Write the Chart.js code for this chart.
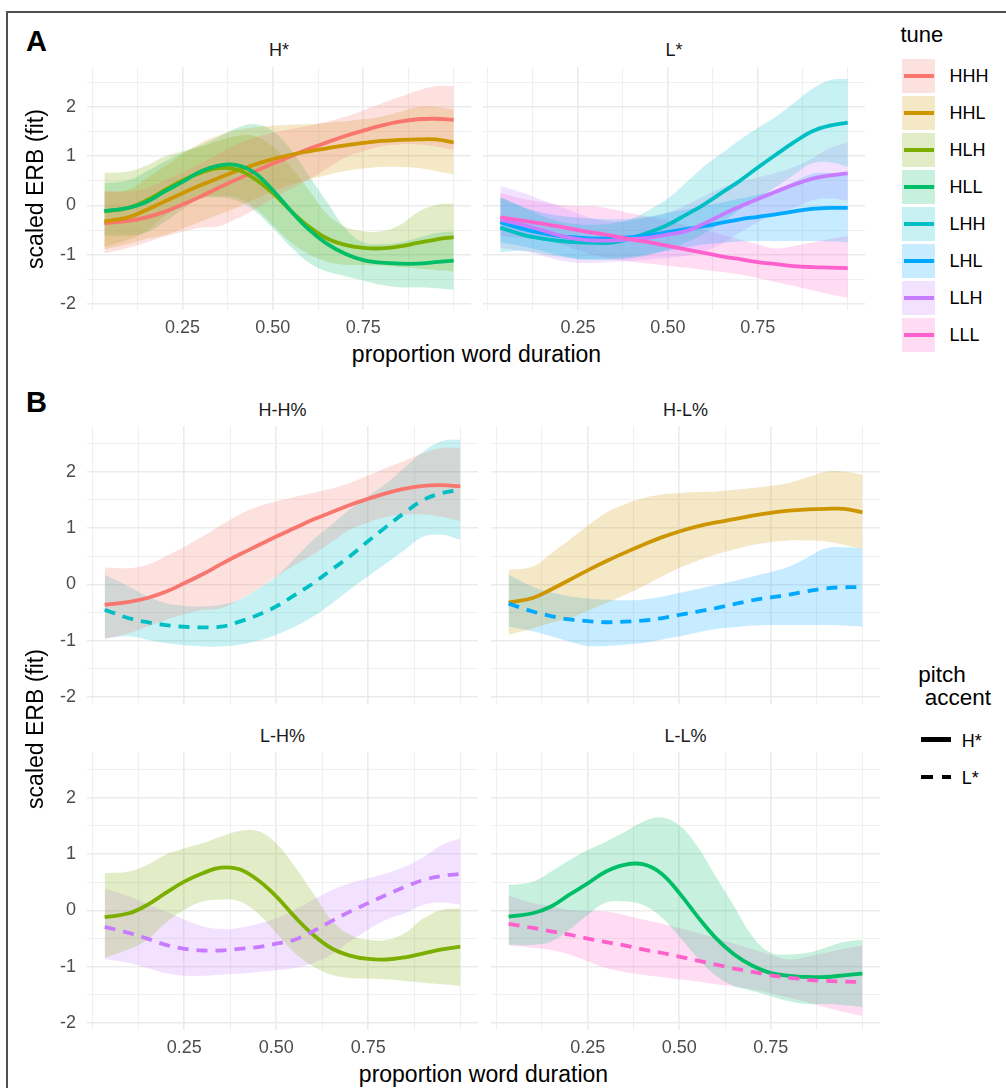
<!DOCTYPE html>
<html><head><meta charset="utf-8">
<script src="https://cdn.jsdelivr.net/npm/chart.js@4/dist/chart.umd.min.js"></script>
<style>
html,body{margin:0;padding:0;background:#fff;}
#wrap{position:relative;width:1006px;height:1088px;overflow:hidden;font-family:"Liberation Sans",Arial,Helvetica,sans-serif;background:#fff;}
#wrap canvas{position:absolute;}
.t{position:absolute;white-space:nowrap;line-height:1;}
#frame{position:absolute;left:6px;top:11px;width:1100px;height:1200px;border-left:2px solid #505050;border-top:2px solid #505050;}
</style></head><body><div id="wrap"><div id="frame"></div></div>
<script>
// ---------- data ----------
const xPos = [0.034,0.1,0.15,0.2,0.25,0.3,0.35,0.4,0.45,0.5,0.55,0.6,0.65,0.7,0.75,0.8,0.85,0.9,0.95,1.0];
const tunes = ['HHH','HHL','HLH','HLL','LHH','LHL','LLH','LLL'];
const tuneColors = ['#F8766D','#CD9600','#7CAE00','#00BE67','#00BFC4','#00A9FF','#C77CFF','#FF61CC'];
const xTickValues = [0.25,0.5,0.75];
const xTickLabels = ['0.25','0.50','0.75'];
const yTickValues = [-2,-1,0,1,2];
const yTickLabels = ['-2','-1','0','1','2'];

const fit_HHH = [-0.36,-0.31,-0.24,-0.13,0.02,0.18,0.36,0.53,0.69,0.85,1.0,1.15,1.28,1.41,1.52,1.62,1.7,1.75,1.76,1.74];
const hi_HHH  = [0.30,0.29,0.35,0.5,0.67,0.85,1.05,1.24,1.38,1.47,1.55,1.62,1.7,1.8,1.93,2.07,2.2,2.33,2.42,2.42];
const lo_HHH  = [-0.97,-0.86,-0.75,-0.63,-0.53,-0.45,-0.42,-0.27,-0.08,0.14,0.34,0.53,0.75,0.97,1.1,1.2,1.24,1.24,1.2,1.12];

const fit_HHL = [-0.32,-0.24,-0.09,0.08,0.25,0.41,0.56,0.7,0.83,0.94,1.03,1.1,1.16,1.22,1.27,1.31,1.33,1.34,1.34,1.28];
const hi_HHL  = [0.26,0.32,0.55,0.79,1.04,1.27,1.42,1.53,1.59,1.62,1.64,1.65,1.68,1.71,1.75,1.8,1.9,2.0,2.0,1.95];
const lo_HHL  = [-0.89,-0.78,-0.68,-0.6,-0.47,-0.33,-0.19,-0.04,0.13,0.29,0.42,0.53,0.62,0.7,0.75,0.78,0.78,0.76,0.7,0.63];

const fit_HLH = [-0.12,-0.05,0.1,0.31,0.51,0.66,0.76,0.73,0.54,0.25,-0.11,-0.43,-0.67,-0.8,-0.86,-0.87,-0.83,-0.76,-0.69,-0.64];
const hi_HLH  = [0.66,0.69,0.81,0.99,1.1,1.19,1.31,1.41,1.41,1.19,0.78,0.31,-0.17,-0.43,-0.52,-0.52,-0.4,-0.14,0.01,0.04];
const lo_HLH  = [-0.84,-0.69,-0.52,-0.22,0.01,0.16,0.19,0.16,-0.05,-0.4,-0.75,-0.99,-1.14,-1.2,-1.21,-1.22,-1.25,-1.28,-1.31,-1.34];

const fit_HLL = [-0.11,-0.05,0.07,0.28,0.48,0.69,0.81,0.82,0.66,0.31,-0.11,-0.49,-0.78,-0.98,-1.11,-1.16,-1.18,-1.18,-1.15,-1.12];
const hi_HLL  = [0.45,0.51,0.69,0.89,1.07,1.22,1.39,1.57,1.65,1.51,1.13,0.6,0.07,-0.46,-0.75,-0.78,-0.75,-0.66,-0.56,-0.52];
const lo_HLL  = [-0.61,-0.61,-0.55,-0.34,-0.08,0.14,0.16,0.1,-0.11,-0.46,-0.84,-1.16,-1.34,-1.43,-1.52,-1.61,-1.66,-1.66,-1.68,-1.71];

const fit_LHH = [-0.45,-0.6,-0.67,-0.72,-0.75,-0.76,-0.75,-0.66,-0.54,-0.39,-0.19,0.02,0.26,0.5,0.77,1.03,1.28,1.5,1.62,1.68];
const hi_LHH  = [0.17,-0.04,-0.21,-0.33,-0.38,-0.39,-0.36,-0.27,-0.08,0.14,0.46,0.79,1.06,1.33,1.57,1.8,2.08,2.36,2.54,2.57];
const lo_LHH  = [-0.95,-0.92,-0.98,-1.04,-1.08,-1.1,-1.1,-1.07,-1.0,-0.89,-0.75,-0.57,-0.34,-0.09,0.15,0.38,0.62,0.85,0.88,0.79];

const fit_LHL = [-0.34,-0.48,-0.56,-0.62,-0.65,-0.67,-0.66,-0.64,-0.6,-0.54,-0.48,-0.42,-0.35,-0.28,-0.23,-0.18,-0.12,-0.07,-0.05,-0.05];
const hi_LHL  = [0.17,-0.04,-0.14,-0.21,-0.25,-0.27,-0.28,-0.27,-0.22,-0.15,-0.08,-0.01,0.06,0.14,0.22,0.32,0.48,0.64,0.66,0.64];
const lo_LHL  = [-0.75,-0.83,-0.92,-1.01,-1.09,-1.09,-1.07,-1.04,-0.98,-0.92,-0.85,-0.79,-0.76,-0.73,-0.72,-0.72,-0.72,-0.72,-0.73,-0.75];

const fit_LLH = [-0.29,-0.4,-0.5,-0.61,-0.68,-0.71,-0.71,-0.68,-0.65,-0.59,-0.52,-0.37,-0.19,-0.02,0.13,0.28,0.42,0.54,0.61,0.65];
const hi_LLH  = [0.39,0.25,0.11,-0.02,-0.16,-0.28,-0.33,-0.31,-0.24,-0.14,0.01,0.19,0.36,0.48,0.57,0.66,0.78,0.95,1.16,1.28];
const lo_LLH  = [-0.86,-0.93,-1.02,-1.11,-1.16,-1.16,-1.14,-1.12,-1.09,-1.06,-1.02,-0.93,-0.78,-0.55,-0.34,-0.16,-0.05,0.1,0.14,0.1];

const fit_LLL = [-0.24,-0.31,-0.37,-0.43,-0.5,-0.56,-0.62,-0.69,-0.75,-0.82,-0.89,-0.96,-1.03,-1.09,-1.15,-1.19,-1.23,-1.25,-1.26,-1.27];
const hi_LLL  = [0.26,0.13,0.07,0.01,-0.01,-0.02,-0.08,-0.16,-0.23,-0.31,-0.4,-0.49,-0.59,-0.69,-0.79,-0.87,-0.82,-0.75,-0.68,-0.62];
const lo_LLL  = [-0.62,-0.66,-0.7,-0.78,-0.9,-1.02,-1.09,-1.14,-1.18,-1.22,-1.26,-1.31,-1.35,-1.4,-1.47,-1.55,-1.63,-1.72,-1.8,-1.87];

const series = {
  HHH:{fit:fit_HHH,hi:hi_HHH,lo:lo_HHH}, HHL:{fit:fit_HHL,hi:hi_HHL,lo:lo_HHL},
  HLH:{fit:fit_HLH,hi:hi_HLH,lo:lo_HLH}, HLL:{fit:fit_HLL,hi:hi_HLL,lo:lo_HLL},
  LHH:{fit:fit_LHH,hi:hi_LHH,lo:lo_LHH}, LHL:{fit:fit_LHL,hi:hi_LHL,lo:lo_LHL},
  LLH:{fit:fit_LLH,hi:hi_LLH,lo:lo_LLH}, LLL:{fit:fit_LLL,hi:hi_LLL,lo:lo_LLL}
};

// ---------- helpers ----------
const FONT = '"Liberation Sans", Arial, Helvetica, sans-serif';
const RIBBON_ALPHA = 0.22;
const wrap = document.getElementById('wrap');
function rgba(hex, a){
  const n = parseInt(hex.slice(1),16);
  return `rgba(${(n>>16)&255},${(n>>8)&255},${n&255},${a})`;
}
function colorOf(t){ return tuneColors[tunes.indexOf(t)]; }
function pts(arr){ return arr.map((y,i)=>({x:xPos[i], y:y})); }
const X_MIN = -0.014, X_MAX = 1.048, Y_MIN = -2.12, Y_MAX = 2.81;
const xGrid = [0,0.125,0.25,0.375,0.5,0.625,0.75,0.875,1];
const yGrid = [-2,-1.5,-1,-0.5,0,0.5,1,1.5,2,2.5];
const isMajorX = v => xTickValues.some(t=>Math.abs(t-v)<1e-6);
const isMajorY = v => Math.abs(v-Math.round(v))<1e-6;

function zeroPad(s){ s.paddingLeft=0; s.paddingRight=0; s.paddingTop=0; s.paddingBottom=0; }

function panel(r, showX, showY, items){
  const yW = showY ? 50 : 0, xH = showX ? 30 : 0;
  const w = r.R - r.L + yW, h = r.B - r.T + xH;
  const cv = document.createElement('canvas');
  cv.width = w; cv.height = h;
  cv.style.left = (r.L - yW)+'px'; cv.style.top = r.T+'px';
  cv.style.width = w+'px'; cv.style.height = h+'px';
  wrap.appendChild(cv);
  const datasets = [];
  items.forEach(it=>{
    const s = series[it.tune], c = colorOf(it.tune);
    datasets.push({data:pts(s.lo), borderWidth:0, borderColor:'rgba(0,0,0,0)', pointRadius:0, pointHoverRadius:0, fill:false, tension:0.4, order:100});
    datasets.push({data:pts(s.hi), borderWidth:0, borderColor:'rgba(0,0,0,0)', pointRadius:0, pointHoverRadius:0, fill:'-1', backgroundColor:rgba(c,RIBBON_ALPHA), tension:0.4, order:100});
  });
  items.forEach((it,i)=>{
    const s = series[it.tune], c = colorOf(it.tune);
    datasets.push({data:pts(s.fit), borderColor:c, borderWidth:3.8, borderDash: it.dashed?[11,8]:[], borderCapStyle:'butt',
      pointRadius:0, pointHoverRadius:0, fill:false, tension:0.4, order:50-i});
  });
  new Chart(cv, {
    type:'line',
    data:{datasets},
    options:{
      responsive:false, animation:false, devicePixelRatio:1, events:[],
      layout:{padding:0},
      plugins:{legend:{display:false}, tooltip:{enabled:false}, filler:{propagate:false, drawTime:'beforeDatasetsDraw'}},
      scales:{
        x:{type:'linear', min:X_MIN, max:X_MAX,
          afterBuildTicks: ax=>{ ax.ticks = xGrid.map(v=>({value:v})); },
          ticks:{display:showX, autoSkip:false, maxRotation:0, minRotation:0, padding:7, color:'#4D4D4D', font:{family:FONT, size:18},
            callback:v=>{ const k = xTickValues.findIndex(t=>Math.abs(t-v)<1e-6); return k>=0 ? xTickLabels[k] : ''; }},
          grid:{drawTicks:false, color:c=> isMajorX(c.tick.value)?'#EBEBEB':'#F0F0F0', lineWidth:c=> isMajorX(c.tick.value)?1.6:1.1},
          border:{display:false},
          afterFit:s=>{ s.height = xH; zeroPad(s); }
        },
        y:{type:'linear', min:Y_MIN, max:Y_MAX,
          afterBuildTicks: ax=>{ ax.ticks = yGrid.map(v=>({value:v})); },
          ticks:{display:showY, autoSkip:false, padding:11, color:'#4D4D4D', font:{family:FONT, size:18},
            callback:v=>{ const k = yTickValues.findIndex(t=>Math.abs(t-v)<1e-6); return k>=0 ? yTickLabels[k] : ''; }},
          grid:{drawTicks:false, color:c=> isMajorY(c.tick.value)?'#EBEBEB':'#F0F0F0', lineWidth:c=> isMajorY(c.tick.value)?1.6:1.1},
          border:{display:false},
          afterFit:s=>{ s.width = yW; zeroPad(s); }
        }
      }
    }
  });
}

function text(str, x, y, o){
  o = o || {};
  const d = document.createElement('div');
  d.className = 't';
  d.textContent = str;
  d.style.left = x+'px'; d.style.top = y+'px';
  d.style.fontSize = (o.size||18)+'px';
  d.style.color = o.color || '#000';
  if (o.bold) d.style.fontWeight = 'bold';
  let tf = o.align==='left' ? 'translate(0,-50%)' : 'translate(-50%,-50%)';
  if (o.rotate) tf += ' rotate(-90deg)';
  d.style.transform = tf;
  wrap.appendChild(d);
}
function box(x,y,w,h,bg){
  const d = document.createElement('div');
  d.style.cssText = `position:absolute;left:${x}px;top:${y}px;width:${w}px;height:${h}px;background:${bg};`;
  wrap.appendChild(d);
}

// ---------- panels ----------
// A
panel({L:87,R:471,T:67,B:310}, true, true, [{tune:'HHH'},{tune:'HHL'},{tune:'HLH'},{tune:'HLL'}]);
panel({L:483,R:865,T:67,B:310}, true, false, [{tune:'LHH'},{tune:'LHL'},{tune:'LLH'},{tune:'LLL'}]);
// B
panel({L:87,R:478,T:426,B:704}, false, true, [{tune:'HHH'},{tune:'LHH',dashed:true}]);
panel({L:491,R:880,T:426,B:704}, false, false, [{tune:'HHL'},{tune:'LHL',dashed:true}]);
panel({L:87,R:478,T:752,B:1030}, true, true, [{tune:'HLH'},{tune:'LLH',dashed:true}]);
panel({L:491,R:880,T:752,B:1030}, true, false, [{tune:'HLL'},{tune:'LLL',dashed:true}]);

// ---------- text ----------
text('A', 36.5, 40.5, {size:29, bold:true});
text('B', 36.5, 401.5, {size:29, bold:true});
text('H*', 279, 49.5, {size:18, color:'#1A1A1A'});
text('L*', 674, 49.5, {size:18, color:'#1A1A1A'});
text('H-H%', 282.5, 409.5, {size:18, color:'#1A1A1A'});
text('H-L%', 685.5, 409.5, {size:18, color:'#1A1A1A'});
text('L-H%', 282.5, 735.5, {size:18, color:'#1A1A1A'});
text('L-L%', 685.5, 735.5, {size:18, color:'#1A1A1A'});
text('proportion word duration', 476.5, 353.5, {size:23});
text('proportion word duration', 483.5, 1073.5, {size:23});
text('scaled ERB (fit)', 35.3, 188.5, {size:23, rotate:true});
text('scaled ERB (fit)', 35.3, 728.5, {size:23, rotate:true});

// tune legend
text('tune', 900.5, 35, {size:22, align:'left'});
tunes.forEach((t,i)=>{
  const cy = 76 + i*37;
  const c = tuneColors[i];
  box(901.5, cy-16.7, 33.4, 33.4, rgba(c,RIBBON_ALPHA));
  box(904, cy-2, 29.5, 4, c);
  text(t, 949.5, cy, {size:18, align:'left'});
});

// pitch accent legend
text('pitch', 918.3, 675, {size:22.5, align:'left'});
text('accent', 924.8, 697.7, {size:22.5, align:'left'});
box(920.7, 737, 30, 4.5, '#000');
box(920.7, 774.5, 12.5, 4.5, '#000');
box(941.5, 774.5, 9, 4.5, '#000');
text('H*', 961.7, 740.5, {size:18, align:'left'});
text('L*', 961.7, 778, {size:18, align:'left'});
</script></body></html>
